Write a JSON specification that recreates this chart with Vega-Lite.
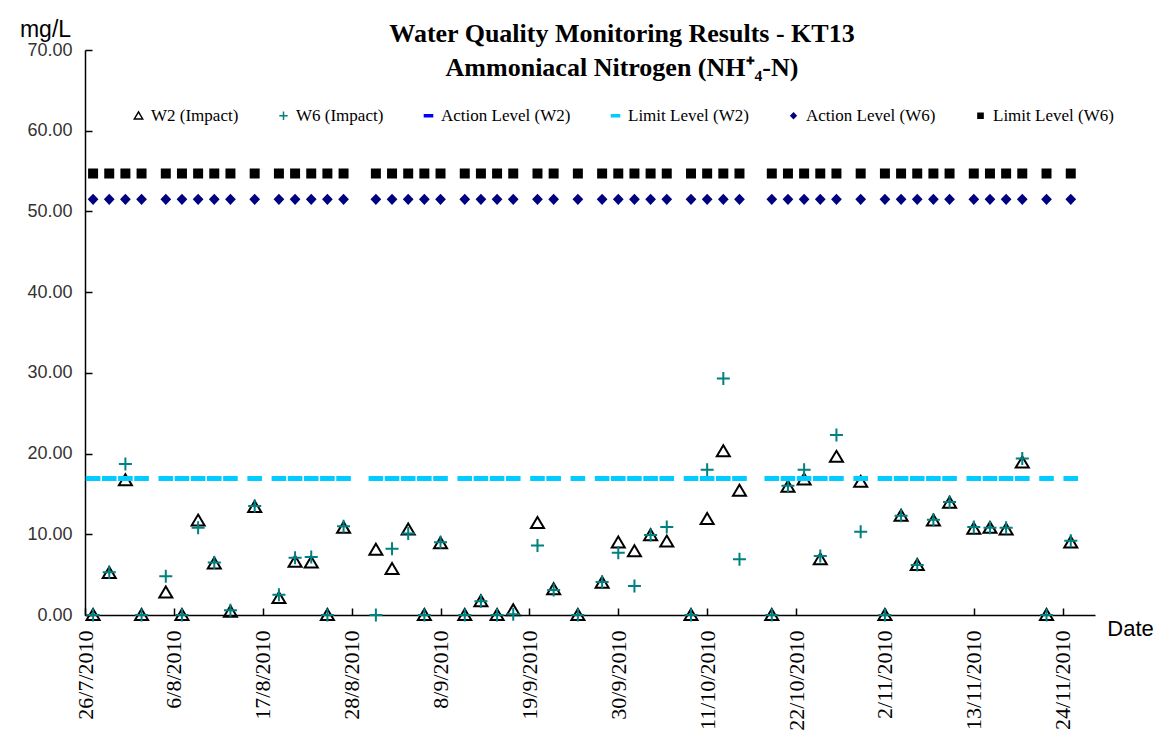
{
  "$schema": "https://vega.github.io/schema/vega-lite/v6.json",
  "width": 1010,
  "height": 565,
  "autosize": {"type": "none"},
  "padding": {"left": 85, "top": 50, "right": 63, "bottom": 116},
  "background": "white",
  "title": {
    "text": ["Water Quality Monitoring Results - KT13", "Ammoniacal Nitrogen (NH⁺₄-N)"],
    "font": "Liberation Serif",
    "fontSize": 26,
    "fontWeight": "bold",
    "color": "#000000",
    "anchor": "middle",
    "lineHeight": 34,
    "dx": 32,
    "dy": 67
  },
  "data": {
    "values": [
      {"date": "2010-07-27", "w2": 0, "w6": 0, "ll_w2": 16.9, "al_w6": 51.5, "ll_w6": 54.7},
      {"date": "2010-07-29", "w2": 5.2, "w6": 5.3, "ll_w2": 16.9, "al_w6": 51.5, "ll_w6": 54.7},
      {"date": "2010-07-31", "w2": 16.7, "w6": 18.7, "ll_w2": 16.9, "al_w6": 51.5, "ll_w6": 54.7},
      {"date": "2010-08-02", "w2": 0, "w6": 0, "ll_w2": 16.9, "al_w6": 51.5, "ll_w6": 54.7},
      {"date": "2010-08-05", "w2": 2.8, "w6": 4.8, "ll_w2": 16.9, "al_w6": 51.5, "ll_w6": 54.7},
      {"date": "2010-08-07", "w2": 0, "w6": 0, "ll_w2": 16.9, "al_w6": 51.5, "ll_w6": 54.7},
      {"date": "2010-08-09", "w2": 11.7, "w6": 10.8, "ll_w2": 16.9, "al_w6": 51.5, "ll_w6": 54.7},
      {"date": "2010-08-11", "w2": 6.4, "w6": 6.5, "ll_w2": 16.9, "al_w6": 51.5, "ll_w6": 54.7},
      {"date": "2010-08-13", "w2": 0.4, "w6": 0.6, "ll_w2": 16.9, "al_w6": 51.5, "ll_w6": 54.7},
      {"date": "2010-08-16", "w2": 13.4, "w6": 13.5, "ll_w2": 16.9, "al_w6": 51.5, "ll_w6": 54.7},
      {"date": "2010-08-19", "w2": 2.1, "w6": 2.5, "ll_w2": 16.9, "al_w6": 51.5, "ll_w6": 54.7},
      {"date": "2010-08-21", "w2": 6.6, "w6": 7.1, "ll_w2": 16.9, "al_w6": 51.5, "ll_w6": 54.7},
      {"date": "2010-08-23", "w2": 6.5, "w6": 7.2, "ll_w2": 16.9, "al_w6": 51.5, "ll_w6": 54.7},
      {"date": "2010-08-25", "w2": 0, "w6": 0, "ll_w2": 16.9, "al_w6": 51.5, "ll_w6": 54.7},
      {"date": "2010-08-27", "w2": 10.8, "w6": 11.0, "ll_w2": 16.9, "al_w6": 51.5, "ll_w6": 54.7},
      {"date": "2010-08-31", "w2": 8.1, "w6": 0, "ll_w2": 16.9, "al_w6": 51.5, "ll_w6": 54.7},
      {"date": "2010-09-02", "w2": 5.7, "w6": 8.2, "ll_w2": 16.9, "al_w6": 51.5, "ll_w6": 54.7},
      {"date": "2010-09-04", "w2": 10.6, "w6": 10.1, "ll_w2": 16.9, "al_w6": 51.5, "ll_w6": 54.7},
      {"date": "2010-09-06", "w2": 0, "w6": 0, "ll_w2": 16.9, "al_w6": 51.5, "ll_w6": 54.7},
      {"date": "2010-09-08", "w2": 8.9, "w6": 9.0, "ll_w2": 16.9, "al_w6": 51.5, "ll_w6": 54.7},
      {"date": "2010-09-11", "w2": 0, "w6": 0, "ll_w2": 16.9, "al_w6": 51.5, "ll_w6": 54.7},
      {"date": "2010-09-13", "w2": 1.7, "w6": 1.7, "ll_w2": 16.9, "al_w6": 51.5, "ll_w6": 54.7},
      {"date": "2010-09-15", "w2": 0, "w6": 0, "ll_w2": 16.9, "al_w6": 51.5, "ll_w6": 54.7},
      {"date": "2010-09-17", "w2": 0.6, "w6": 0.1, "ll_w2": 16.9, "al_w6": 51.5, "ll_w6": 54.7},
      {"date": "2010-09-20", "w2": 11.4, "w6": 8.6, "ll_w2": 16.9, "al_w6": 51.5, "ll_w6": 54.7},
      {"date": "2010-09-22", "w2": 3.2, "w6": 3.1, "ll_w2": 16.9, "al_w6": 51.5, "ll_w6": 54.7},
      {"date": "2010-09-25", "w2": 0, "w6": 0, "ll_w2": 16.9, "al_w6": 51.5, "ll_w6": 54.7},
      {"date": "2010-09-28", "w2": 4.0, "w6": 4.1, "ll_w2": 16.9, "al_w6": 51.5, "ll_w6": 54.7},
      {"date": "2010-09-30", "w2": 9.0, "w6": 7.7, "ll_w2": 16.9, "al_w6": 51.5, "ll_w6": 54.7},
      {"date": "2010-10-02", "w2": 7.9, "w6": 3.6, "ll_w2": 16.9, "al_w6": 51.5, "ll_w6": 54.7},
      {"date": "2010-10-04", "w2": 9.9, "w6": 9.9, "ll_w2": 16.9, "al_w6": 51.5, "ll_w6": 54.7},
      {"date": "2010-10-06", "w2": 9.1, "w6": 10.9, "ll_w2": 16.9, "al_w6": 51.5, "ll_w6": 54.7},
      {"date": "2010-10-09", "w2": 0, "w6": 0, "ll_w2": 16.9, "al_w6": 51.5, "ll_w6": 54.7},
      {"date": "2010-10-11", "w2": 11.9, "w6": 18.0, "ll_w2": 16.9, "al_w6": 51.5, "ll_w6": 54.7},
      {"date": "2010-10-13", "w2": 20.3, "w6": 29.3, "ll_w2": 16.9, "al_w6": 51.5, "ll_w6": 54.7},
      {"date": "2010-10-15", "w2": 15.4, "w6": 6.9, "ll_w2": 16.9, "al_w6": 51.5, "ll_w6": 54.7},
      {"date": "2010-10-19", "w2": 0, "w6": 0, "ll_w2": 16.9, "al_w6": 51.5, "ll_w6": 54.7},
      {"date": "2010-10-21", "w2": 15.9, "w6": 16.0, "ll_w2": 16.9, "al_w6": 51.5, "ll_w6": 54.7},
      {"date": "2010-10-23", "w2": 16.8, "w6": 18.0, "ll_w2": 16.9, "al_w6": 51.5, "ll_w6": 54.7},
      {"date": "2010-10-25", "w2": 6.9, "w6": 7.3, "ll_w2": 16.9, "al_w6": 51.5, "ll_w6": 54.7},
      {"date": "2010-10-27", "w2": 19.6, "w6": 22.3, "ll_w2": 16.9, "al_w6": 51.5, "ll_w6": 54.7},
      {"date": "2010-10-30", "w2": 16.5, "w6": 10.3, "ll_w2": 16.9, "al_w6": 51.5, "ll_w6": 54.7},
      {"date": "2010-11-02", "w2": 0, "w6": 0, "ll_w2": 16.9, "al_w6": 51.5, "ll_w6": 54.7},
      {"date": "2010-11-04", "w2": 12.3, "w6": 12.3, "ll_w2": 16.9, "al_w6": 51.5, "ll_w6": 54.7},
      {"date": "2010-11-06", "w2": 6.2, "w6": 6.2, "ll_w2": 16.9, "al_w6": 51.5, "ll_w6": 54.7},
      {"date": "2010-11-08", "w2": 11.7, "w6": 11.8, "ll_w2": 16.9, "al_w6": 51.5, "ll_w6": 54.7},
      {"date": "2010-11-10", "w2": 13.9, "w6": 14.0, "ll_w2": 16.9, "al_w6": 51.5, "ll_w6": 54.7},
      {"date": "2010-11-13", "w2": 10.7, "w6": 10.9, "ll_w2": 16.9, "al_w6": 51.5, "ll_w6": 54.7},
      {"date": "2010-11-15", "w2": 10.8, "w6": 10.8, "ll_w2": 16.9, "al_w6": 51.5, "ll_w6": 54.7},
      {"date": "2010-11-17", "w2": 10.6, "w6": 10.8, "ll_w2": 16.9, "al_w6": 51.5, "ll_w6": 54.7},
      {"date": "2010-11-19", "w2": 18.9, "w6": 19.4, "ll_w2": 16.9, "al_w6": 51.5, "ll_w6": 54.7},
      {"date": "2010-11-22", "w2": 0, "w6": 0, "ll_w2": 16.9, "al_w6": 51.5, "ll_w6": 54.7},
      {"date": "2010-11-25", "w2": 9.0, "w6": 9.2, "ll_w2": 16.9, "al_w6": 51.5, "ll_w6": 54.7}
    ]
  },
  "transform": [
    {"fold": ["w2", "w6", "ll_w2", "al_w6", "ll_w6"], "as": ["series", "value"]}
  ],
  "mark": {"type": "point", "opacity": 1, "size": 196, "strokeWidth": 2},
  "encoding": {
    "x": {
      "field": "date",
      "type": "temporal",
      "scale": {
        "type": "utc",
        "domain": [
          {"year": 2010, "month": 7, "date": 26, "utc": true},
          {"year": 2010, "month": 11, "date": 28, "utc": true}
        ]
      },
      "axis": {
        "values": [
          {"year": 2010, "month": 7, "date": 26, "utc": true},
          {"year": 2010, "month": 8, "date": 6, "utc": true},
          {"year": 2010, "month": 8, "date": 17, "utc": true},
          {"year": 2010, "month": 8, "date": 28, "utc": true},
          {"year": 2010, "month": 9, "date": 8, "utc": true},
          {"year": 2010, "month": 9, "date": 19, "utc": true},
          {"year": 2010, "month": 9, "date": 30, "utc": true},
          {"year": 2010, "month": 10, "date": 11, "utc": true},
          {"year": 2010, "month": 10, "date": 22, "utc": true},
          {"year": 2010, "month": 11, "date": 2, "utc": true},
          {"year": 2010, "month": 11, "date": 13, "utc": true},
          {"year": 2010, "month": 11, "date": 24, "utc": true}
        ],
        "format": "%-d/%-m/%Y",
        "labelAngle": 270,
        "labelFont": "Liberation Serif",
        "labelFontSize": 22,
        "labelColor": "#000000",
        "labelPadding": 22,
        "labelOverlap": false,
        "labelFlush": false,
        "labelBound": false,
        "tickSize": -7,
        "tickColor": "#000000",
        "tickWidth": 1.5,
        "domainColor": "#000000",
        "domainWidth": 1.5,
        "grid": false,
        "title": "Date",
        "titleFont": "Liberation Sans",
        "titleFontSize": 22,
        "titleFontWeight": "normal",
        "titleColor": "#000000",
        "titleAngle": 0,
        "titleAlign": "center",
        "titleBaseline": "middle",
        "titleX": 1045,
        "titleY": 13
      }
    },
    "y": {
      "field": "value",
      "type": "quantitative",
      "scale": {"domain": [0, 70], "nice": false, "zero": true},
      "axis": {
        "values": [0, 10, 20, 30, 40, 50, 60, 70],
        "format": ".2f",
        "labelFont": "Liberation Sans",
        "labelFontSize": 18,
        "labelColor": "#333333",
        "labelPadding": 20,
        "tickSize": -7,
        "tickColor": "#000000",
        "tickWidth": 1.5,
        "domainColor": "#000000",
        "domainWidth": 1.5,
        "grid": false,
        "title": "mg/L",
        "titleFont": "Liberation Sans",
        "titleFontSize": 23,
        "titleFontWeight": "normal",
        "titleColor": "#000000",
        "titleAngle": 0,
        "titleAlign": "center",
        "titleBaseline": "middle",
        "titleX": -40,
        "titleY": -21
      }
    },
    "shape": {
      "field": "series",
      "type": "nominal",
      "scale": {
        "domain": ["w2", "w6", "al_w2", "ll_w2", "al_w6", "ll_w6"],
        "range": [
          "M0,-0.85L0.93,0.72L-0.93,0.72Z",
          "M-0.93,0H0.93M0,-0.93V0.93",
          "M-0.9,-0.21H0.9V0.21H-0.9Z",
          "M-0.9,-0.21H0.9V0.21H-0.9Z",
          "M0,-0.6L0.57,0L0,0.6L-0.57,0Z",
          "M-0.57,-0.57H0.57V0.57H-0.57Z"
        ]
      },
      "legend": {
        "orient": "none",
        "legendX": 45,
        "legendY": 57,
        "direction": "horizontal",
        "title": null,
        "labelExpr": "datum.label == 'w2' ? 'W2 (Impact)' : datum.label == 'w6' ? 'W6 (Impact)' : datum.label == 'al_w2' ? 'Action Level (W2)' : datum.label == 'll_w2' ? 'Limit Level (W2)' : datum.label == 'al_w6' ? 'Action Level (W6)' : 'Limit Level (W6)'"
      }
    },
    "fill": {
      "field": "series",
      "type": "nominal",
      "scale": {
        "domain": ["w2", "w6", "al_w2", "ll_w2", "al_w6", "ll_w6"],
        "range": ["transparent", "transparent", "#0000FF", "#00CCFF", "#000080", "#000000"]
      },
      "legend": {
        "orient": "none",
        "legendX": 45,
        "legendY": 57,
        "direction": "horizontal",
        "title": null,
        "labelExpr": "datum.label == 'w2' ? 'W2 (Impact)' : datum.label == 'w6' ? 'W6 (Impact)' : datum.label == 'al_w2' ? 'Action Level (W2)' : datum.label == 'll_w2' ? 'Limit Level (W2)' : datum.label == 'al_w6' ? 'Action Level (W6)' : 'Limit Level (W6)'"
      }
    },
    "stroke": {
      "field": "series",
      "type": "nominal",
      "scale": {
        "domain": ["w2", "w6", "al_w2", "ll_w2", "al_w6", "ll_w6"],
        "range": ["#000000", "#008080", "#0000FF", "#00CCFF", "#000080", "#000000"]
      },
      "legend": {
        "orient": "none",
        "legendX": 45,
        "legendY": 57,
        "direction": "horizontal",
        "title": null,
        "labelExpr": "datum.label == 'w2' ? 'W2 (Impact)' : datum.label == 'w6' ? 'W6 (Impact)' : datum.label == 'al_w2' ? 'Action Level (W2)' : datum.label == 'll_w2' ? 'Limit Level (W2)' : datum.label == 'al_w6' ? 'Action Level (W6)' : 'Limit Level (W6)'"
      }
    }
  },
  "config": {
    "view": {"stroke": null},
    "legend": {
      "labelFont": "Liberation Serif",
      "labelFontSize": 17,
      "labelColor": "#000000",
      "labelOffset": 4,
      "symbolSize": 81,
      "symbolStrokeWidth": 1.5,
      "columnPadding": 36
    }
  }
}
